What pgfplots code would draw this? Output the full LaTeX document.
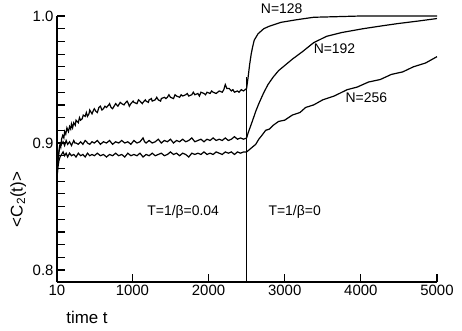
\documentclass[border=0pt]{standalone}
\usepackage{fontspec}
\setmainfont{Liberation Sans}
\usepackage{pgfplots}
\pgfplotsset{compat=1.18}
\begin{document}
\begin{tikzpicture}
\begin{axis}[
  scale only axis, width=380bp, height=266bp,
  at={(0,0)}, anchor=south west,
  xmin=10, xmax=5000, ymin=0.7906, ymax=1.0,
  axis x line*=bottom, axis y line*=left,
  axis line style={-, line width=1.1bp},
  xtick pos=lower, ytick pos=left,
  xtick align=inside, ytick align=inside,
  xtick={10,1000,2000,3000,4000,5000},
  xticklabels={10,1000,2000,3000,4000,5000},
  ytick={0.80,0.81,0.82,0.83,0.84,0.85,0.86,0.87,0.88,0.89,0.90,0.91,0.92,0.93,0.94,0.95,0.96,0.97,0.98,0.99,1.0},
  yticklabels={0.8,,,,,,,,,,0.9,,,,,,,,,,1.0},
  major tick length=8bp,
  every tick/.style={black, line width=1.2bp},
  /pgf/number format/assume math mode=true,
  tick label style={font=\fontsize{15}{17}\selectfont},
  xlabel={time t}, ylabel={<C\textsubscript{2}(t)>},
  xlabel style={font=\fontsize{17}{19}\selectfont, at={(axis description cs:0.079,-0.135)}, anchor=center},
  ylabel style={font=\fontsize{17}{19}\selectfont, at={(axis description cs:-0.102,0.31)}, anchor=center},
  clip=false,
]
% N=128
\addplot[black, line width=1.2bp] coordinates {
(10,0.870)(20,0.884)(30,0.890)(40,0.896)(50,0.899)(60,0.897)(70,0.903)(85,0.906)(100,0.904)(110,0.909)(125,0.907)(140,0.912)(160,0.909)(175,0.913)
(190,0.911)(200,0.915)(215,0.912)(230,0.916)(250,0.914)(260,0.918)(275,0.917)(290,0.916)(305,0.920)(320,0.918)(340,0.919)(355,0.922)(380,0.921)(395,0.924)(410,0.921)(430,0.923)(440,0.926)(470,0.923)
(490,0.926)(500,0.927)(520,0.925)(540,0.924)(560,0.928)(580,0.929)(600,0.926)(620,0.927)(640,0.929)(660,0.928)(690,0.930)(700,0.931)(720,0.928)(740,0.927)(770,0.930)(780,0.931)(810,0.929)(820,0.930)(840,0.932)(860,0.931)
(890,0.930)(900,0.931)(930,0.933)(940,0.932)(960,0.929)(980,0.931)(1010,0.933)(1020,0.932)(1060,0.931)(1080,0.934)(1100,0.933)(1130,0.931)(1140,0.932)(1170,0.934)(1180,0.933)(1210,0.932)(1220,0.934)(1250,0.935)(1260,0.933)
(1300,0.934)(1320,0.936)(1340,0.934)(1370,0.933)(1380,0.935)(1420,0.936)(1440,0.935)(1460,0.936)(1480,0.938)(1500,0.936)(1540,0.935)(1560,0.938)(1580,0.937)(1620,0.936)(1640,0.938)(1660,0.937)
(1700,0.938)(1720,0.939)(1740,0.937)(1780,0.938)(1800,0.940)(1820,0.938)(1860,0.939)(1880,0.937)(1900,0.940)(1940,0.939)(1960,0.938)(1980,0.940)(2020,0.939)(2040,0.941)(2060,0.940)
(2100,0.939)(2140,0.941)(2180,0.940)(2200,0.942)(2220,0.946)(2240,0.943)(2270,0.943)(2300,0.941)(2320,0.942)(2340,0.940)(2380,0.941)(2400,0.940)(2430,0.942)(2460,0.941)
(2500,0.943)(2520,0.952)(2540,0.962)(2560,0.970)(2580,0.976)(2600,0.981)(2650,0.986)(2725,0.990)(2800,0.992)(2950,0.995)
(3150,0.997)(3380,0.999)(3700,0.9995)(4000,1.0)(4500,1.0)(5000,1.0)
};
% N=192
\addplot[black, line width=1.2bp] coordinates {
(10,0.876)(20,0.886)(35,0.893)(50,0.897)(70,0.899)(90,0.901)(110,0.898)(130,0.902)(150,0.899)(175,0.901)
(200,0.898)(230,0.902)(245,0.900)(260,0.900)(290,0.899)(320,0.901)(350,0.899)(380,0.902)(400,0.901)(410,0.900)(440,0.899)(470,0.901)
(500,0.900)(520,0.901)(540,0.902)(580,0.899)(620,0.901)(660,0.900)(700,0.902)(740,0.899)(780,0.901)(820,0.900)(860,0.902)
(900,0.900)(940,0.901)(980,0.899)(1020,0.902)(1060,0.900)(1100,0.901)(1140,0.904)(1160,0.901)(1180,0.900)(1220,0.902)(1260,0.900)
(1300,0.901)(1340,0.903)(1380,0.900)(1420,0.902)(1460,0.901)(1500,0.903)(1540,0.900)(1580,0.902)(1620,0.901)(1660,0.903)
(1700,0.901)(1740,0.902)(1780,0.904)(1820,0.901)(1860,0.902)(1900,0.903)(1940,0.901)(1980,0.903)(2020,0.902)(2060,0.904)
(2100,0.902)(2140,0.903)(2180,0.902)(2220,0.904)(2260,0.902)(2300,0.903)(2340,0.905)(2380,0.903)(2420,0.904)(2460,0.903)
(2500,0.904)(2520,0.908)(2550,0.913)(2580,0.918)(2620,0.925)(2660,0.931)(2720,0.939)(2780,0.946)(2850,0.952)(2920,0.957)
(3000,0.961)(3100,0.966)(3235,0.972)(3380,0.979)(3550,0.984)(3750,0.987)(4030,0.990)(4250,0.992)(4480,0.994)(4750,0.996)(5000,0.998)
};
% N=256
\addplot[black, line width=1.2bp] coordinates {
(10,0.872)(20,0.880)(35,0.886)(50,0.889)(70,0.891)(90,0.893)(110,0.890)(130,0.892)(150,0.889)(175,0.892)
(200,0.890)(230,0.891)(260,0.889)(290,0.892)(320,0.890)(350,0.891)(380,0.889)(410,0.892)(440,0.890)(470,0.891)
(500,0.890)(540,0.892)(580,0.890)(620,0.891)(660,0.889)(700,0.891)(740,0.890)(780,0.892)(820,0.890)(860,0.891)
(900,0.889)(940,0.892)(980,0.890)(1020,0.891)(1060,0.890)(1100,0.892)(1140,0.889)(1180,0.891)(1220,0.890)(1260,0.892)
(1300,0.890)(1340,0.891)(1380,0.892)(1420,0.890)(1460,0.891)(1500,0.893)(1540,0.891)(1580,0.892)(1620,0.890)(1660,0.892)
(1700,0.891)(1740,0.889)(1780,0.892)(1820,0.891)(1860,0.892)(1900,0.891)(1940,0.893)(1980,0.891)(2020,0.892)(2060,0.891)
(2100,0.893)(2140,0.892)(2180,0.891)(2220,0.893)(2260,0.892)(2300,0.893)(2340,0.891)(2380,0.893)(2420,0.892)(2460,0.893)
(2500,0.893)(2540,0.895)(2580,0.897)(2620,0.899)(2660,0.903)(2700,0.906)(2750,0.910)(2800,0.911)(2850,0.914)(2920,0.917)
(3000,0.918)(3100,0.922)(3200,0.924)(3275,0.928)(3380,0.930)(3500,0.934)(3650,0.937)(3820,0.942)(3950,0.944)(4100,0.948)
(4255,0.950)(4400,0.954)(4550,0.956)(4690,0.960)(4850,0.963)(5000,0.968)
};
% quench line
\addplot[black, line width=1.2bp] coordinates {(2500,0.7906)(2500,0.952)};
\node[font=\fontsize{14}{16}\selectfont] at (axis cs:2961,1.0055) {N=128};
\node[font=\fontsize{14}{16}\selectfont] at (axis cs:3654,0.974) {N=192};
\node[font=\fontsize{14}{16}\selectfont] at (axis cs:4072,0.9354) {N=256};
\node[font=\fontsize{14}{16}\selectfont] at (axis cs:1667,0.8457) {T=1/β=0.04};
\node[font=\fontsize{14}{16}\selectfont] at (axis cs:3131,0.8457) {T=1/β=0};
\end{axis}
\pgfresetboundingbox
\path[use as bounding box] (-57bp,-49bp) rectangle (405bp,282bp);
\end{tikzpicture}
\end{document}
